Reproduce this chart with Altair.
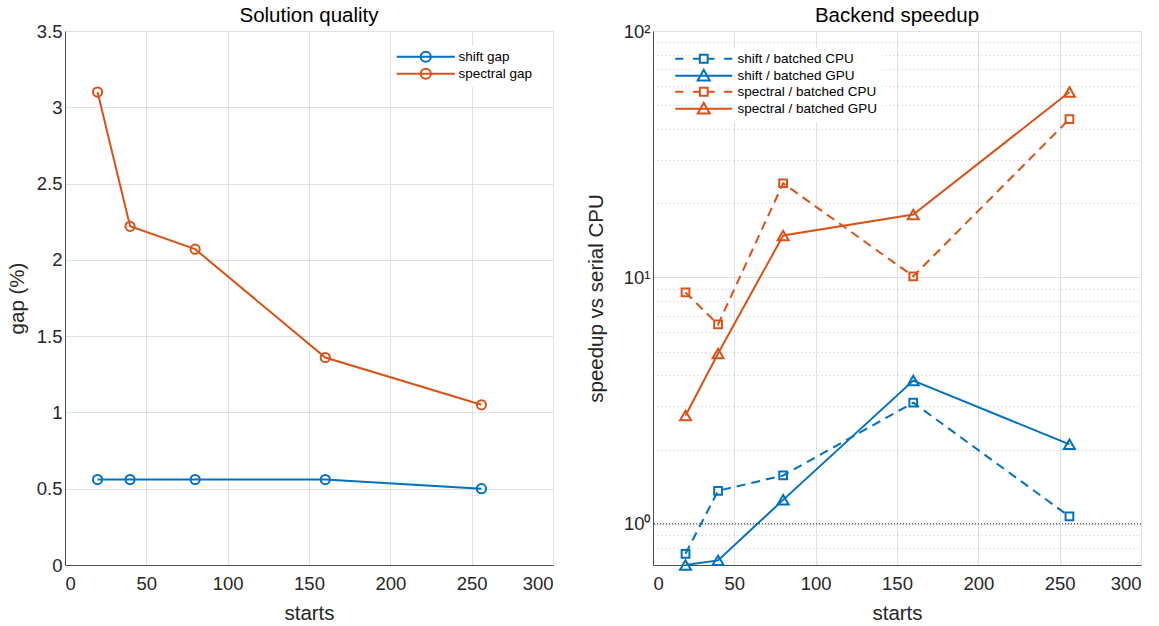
import altair as alt
import pandas as pd

FONT = "Liberation Sans"
BLUE = "#0072BD"
ORANGE = "#D95319"

# ---------- data ----------
starts = [20, 40, 80, 160, 256]
shift_gap = [0.56, 0.56, 0.56, 0.56, 0.50]
spectral_gap = [3.10, 2.22, 2.07, 1.36, 1.05]

shift_cpu = [0.755, 1.36, 1.57, 3.10, 1.07]
shift_gpu = [0.68, 0.71, 1.25, 3.81, 2.10]
spectral_cpu = [8.69, 6.44, 24.1, 10.1, 43.9]
spectral_gpu = [2.75, 4.91, 14.8, 18.0, 56.5]

left_series = ["shift gap", "spectral gap"]
right_series = ["shift / batched CPU", "shift / batched GPU",
                "spectral / batched CPU", "spectral / batched GPU"]
x_ticks = [0, 50, 100, 150, 200, 250, 300]
y_ticks_left = [0, 0.5, 1, 1.5, 2, 2.5, 3, 3.5]
y_ticks_right = [0.7, 0.8, 0.9, 1, 2, 3, 4, 5, 6, 7, 8, 9, 10,
                 20, 30, 40, 50, 60, 70, 80, 90, 100]
ref_line = [1]

left_df = pd.DataFrame({
    "starts": starts * 2,
    "gap": shift_gap + spectral_gap,
    "series": [left_series[0]] * 5 + [left_series[1]] * 5,
})
right_df = pd.DataFrame({
    "starts": starts * 4,
    "speedup": shift_cpu + shift_gpu + spectral_cpu + spectral_gpu,
    "series": sum([[s] * 5 for s in right_series], []),
})
ref_df = pd.DataFrame({"y": ref_line})

W, H = 488, 534
TICK_FS = 18.5
TITLE_FS = 20.5
LEG_FS = 13.5

# ---------- legend symbol paths ----------
circle_path = ("M-9.7,0H9.7 M-1.7,0A1.7,1.7 0 1,1 1.7,0A1.7,1.7 0 1,1 -1.7,0")
square_dash_path = ("M-9.5,0H-6.8 M-3.6,0H-1.4 M1.4,0H3.6 M6.8,0H9.5 "
                    "M-1.3,-1.3H1.3V1.3H-1.3Z")
tri_path = "M-9.5,0H9.5 M-2,1.6L0,-2L2,1.6Z"
sym_expr = ("indexof(datum.value, 'CPU') >= 0 ? '" + square_dash_path +
            "' : '" + tri_path + "'")

x_axis = alt.Axis(values=x_ticks, title="starts", grid=True, ticks=False,
                  labelPadding=9, titlePadding=11)

# ---------- left chart ----------
lcolor = alt.Color("series:N", scale=alt.Scale(domain=left_series, range=[BLUE, ORANGE]),
                   legend=alt.Legend(title=None, orient="none", legendX=350, legendY=15,
                                     symbolType=circle_path, symbolSize=36,
                                     symbolStrokeWidth=2, symbolFillColor="transparent",
                                     labelOffset=26, labelFontSize=LEG_FS,
                                     fillColor="white", padding=4, rowPadding=-2))
lx = alt.X("starts:Q", scale=alt.Scale(domain=[0, 300], nice=False), axis=x_axis)
ly = alt.Y("gap:Q", scale=alt.Scale(domain=[0, 3.5], nice=False),
           axis=alt.Axis(values=y_ticks_left, format="~g", title="gap (%)", grid=True,
                         ticks=False, labelPadding=3, titlePadding=9))
left_line = alt.Chart(left_df).mark_line(strokeWidth=2).encode(x=lx, y=ly, color=lcolor)
left_pts = alt.Chart(left_df).mark_point(filled=False, strokeWidth=2, size=85, shape="circle",
                                         opacity=1).encode(
    x=lx, y=ly, color=alt.Color("series:N", legend=None))
left = alt.layer(left_line, left_pts).properties(
    width=W, height=H,
    title=alt.TitleParams("Solution quality", fontSize=TITLE_FS, font=FONT, fontWeight="normal",
                          color="#000000", offset=-4))

# ---------- right chart ----------
rscale_color = alt.Scale(domain=right_series, range=[BLUE, BLUE, ORANGE, ORANGE])
rcolor = alt.Color("series:N", scale=rscale_color,
                   legend=alt.Legend(title=None, orient="none", legendX=40, legendY=17,
                                     symbolSize=36, symbolStrokeWidth=2,
                                     symbolFillColor="transparent",
                                     symbolType={"expr": sym_expr},
                                     labelOffset=27, labelFontSize=LEG_FS,
                                     fillColor="white", padding=4, rowPadding=-2))
rcolor_nolegend = alt.Color("series:N", scale=rscale_color, legend=None)
rx = alt.X("starts:Q", scale=alt.Scale(domain=[0, 300], nice=False), axis=x_axis)
major = "indexof([1, 10, 100], datum.value) >= 0"
ry = alt.Y("speedup:Q", scale=alt.Scale(type="log", domain=[0.68, 100], nice=False),
           axis=alt.Axis(values=y_ticks_right, title="speedup vs serial CPU", grid=True,
                         ticks=False, labelPadding=3, titlePadding=17,
                         labelExpr="datum.value == 1 ? '10⁰' : datum.value == 10 ? '10¹' : datum.value == 100 ? '10²' : ''",
                         gridDash={"condition": {"test": major, "value": []}, "value": [1, 3]},
                         gridColor={"condition": {"test": major, "value": "#e0e0e0"},
                                    "value": "#c4c4c4"}))
is_cpu = "indexof(datum.series, 'CPU') >= 0"
is_gpu = "indexof(datum.series, 'GPU') >= 0"
base_r = alt.Chart(right_df)
ref_rule = alt.Chart(ref_df).mark_rule(color="#262626", strokeDash=[1, 2], strokeWidth=1).encode(
    y=alt.Y("y:Q", scale=alt.Scale(type="log", domain=[0.68, 100], nice=False)))
right_line_gpu = base_r.transform_filter(is_gpu).mark_line(strokeWidth=2).encode(
    x=rx, y=ry, color=rcolor)
right_line_cpu = base_r.transform_filter(is_cpu).mark_line(strokeWidth=2, strokeDash=[9, 6]).encode(
    x=rx, y=ry, color=rcolor_nolegend)
right_sq = base_r.transform_filter(is_cpu).mark_point(
    filled=False, strokeWidth=2, opacity=1, shape="square", size=60).encode(
    x=rx, y=ry, color=rcolor_nolegend)
right_tri = base_r.transform_filter(is_gpu).mark_point(
    filled=False, strokeWidth=2, opacity=1, shape="triangle-up", size=120).encode(
    x=rx, y=ry, color=rcolor_nolegend)
right = alt.layer(ref_rule, right_line_gpu, right_line_cpu, right_sq, right_tri).properties(
    width=W, height=H,
    title=alt.TitleParams("Backend speedup", fontSize=TITLE_FS, font=FONT, fontWeight="normal",
                          color="#000000", offset=-4))

chart = alt.hconcat(left, right, spacing=33).resolve_scale(
    color="independent"
).resolve_legend(color="independent").properties(
    padding={"left": 7, "top": 5, "right": 5, "bottom": 5}
).configure_view(stroke=None).configure_axis(
    labelFont=FONT, titleFont=FONT, labelFontSize=TICK_FS, titleFontSize=TITLE_FS,
    titleFontWeight="normal", labelColor="#262626", titleColor="#262626",
    domainColor="#4d4d4d", domainWidth=1, gridColor="#e0e0e0", gridWidth=1
).configure_legend(labelFont=FONT, labelColor="#000000").configure_title(
    font=FONT, anchor="middle")

chart.save("out.html", embed_options={"renderer": "svg", "actions": False})
